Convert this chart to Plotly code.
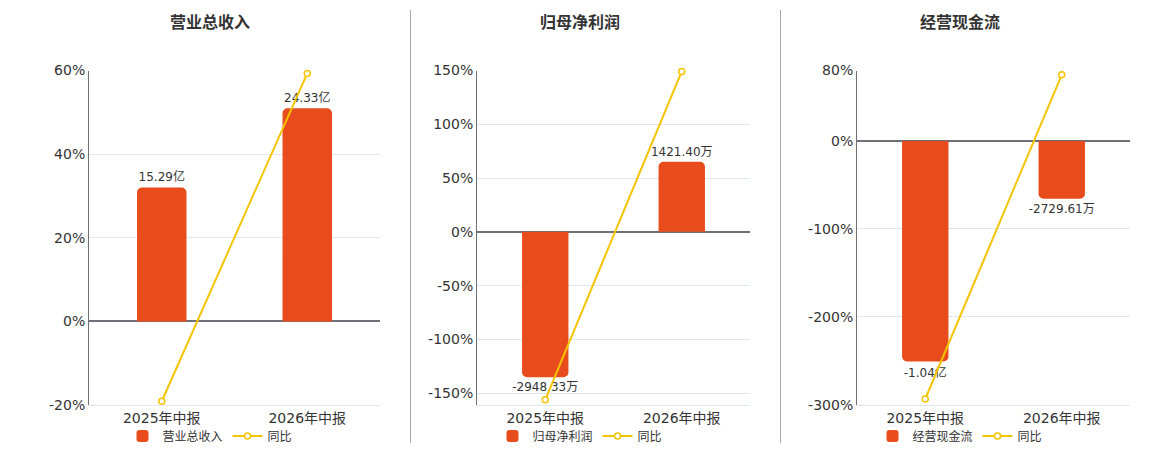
import plotly.graph_objects as go

# data
periods = ['2025年中报', '2026年中报']

titles = ['营业总收入', '归母净利润', '经营现金流']

revenue = [15.29, 24.33]            # 亿
revenue_text = ['15.29亿', '24.33亿']
revenue_yoy = [-19.1, 59.3]         # %

profit = [-2948.33, 1421.40]        # 万
profit_text = ['-2948.33万', '1421.40万']
profit_yoy = [-156.2, 149.1]

cashflow = [-10400.0, -2729.61]     # 万
cashflow_text = ['-1.04亿', '-2729.61万']
cashflow_yoy = [-293.2, 75.1]

pct_ticks_1 = [-20, 0, 20, 40, 60]
pct_ticks_2 = [-150, -100, -50, 0, 50, 100, 150]
pct_ticks_3 = [-300, -200, -100, 0, 80]

BAR = '#E84C1C'
LINE = '#F5C400'
GRID = '#E0E6F1'
AXIS = '#6E7079'
TXT = '#333333'
FONT = 'DejaVu Sans, Noto Sans CJK SC, sans-serif'

W, H = 1160, 450
OFF = 8  # page body margin, figure is drawn 8px in from the corner


def px(v):
    return (v - OFF) / W


def py(v):
    return 1 - (v - OFF) / H


panels = [
    dict(bars=revenue, text=revenue_text, yoy=revenue_yoy, ticks=pct_ticks_1,
         prange=[-20, 60], k=0.4775, x0=89, x1=380, tx=210),
    dict(bars=profit, text=profit_text, yoy=profit_yoy, ticks=pct_ticks_2,
         prange=[-161, 150], k=21.82, x0=477, x1=750, tx=580),
    dict(bars=cashflow, text=cashflow_text, yoy=cashflow_yoy, ticks=pct_ticks_3,
         prange=[-300, 80], k=41.5, x0=857, x1=1130, tx=960),
]

fig = go.Figure()
layout = {}
ydom = [py(405), py(70.5)]

for i, p in enumerate(panels):
    n = i + 1
    xa = 'x' if n == 1 else f'x{n}'
    ybar = 'y' if n == 1 else f'y{2 * n - 1}'
    ypct = f'y{2 * n}'
    lg = 'legend' if n == 1 else f'legend{n}'

    fig.add_trace(go.Bar(
        x=periods, y=p['bars'], text=p['text'], name=titles[i],
        xaxis=xa, yaxis=ybar, legend=lg,
        marker=dict(color=BAR, cornerradius=5, line=dict(width=0)),
        width=0.34, textposition='outside', cliponaxis=False,
        constraintext='none',
        textfont=dict(size=12, color=TXT), hoverinfo='skip',
    ))
    fig.add_trace(go.Scatter(
        x=periods, y=p['yoy'], name='同比', mode='lines+markers',
        xaxis=xa, yaxis=ypct, legend=lg,
        line=dict(color=LINE, width=2),
        marker=dict(symbol='circle', size=6, color='white',
                    line=dict(color=LINE, width=1.5)),
        cliponaxis=False, hoverinfo='skip',
    ))

    xkey = 'xaxis' if n == 1 else f'xaxis{n}'
    layout[xkey] = dict(
        domain=[px(p['x0']), px(p['x1'])], anchor=ybar, automargin=False,
        type='category', showgrid=False, showline=True, linecolor=GRID,
        linewidth=1, ticks='', tickfont=dict(size=14, color=TXT),
    )
    ybkey = 'yaxis' if n == 1 else f'yaxis{2 * n - 1}'
    layout[ybkey] = dict(
        domain=ydom, anchor=xa, visible=False, automargin=False,
        range=[p['prange'][0] * p['k'], p['prange'][1] * p['k']],
    )
    layout[f'yaxis{2 * n}'] = dict(
        domain=ydom, anchor=xa, overlaying=ybar, side='left', automargin=False,
        range=p['prange'], tickvals=p['ticks'],
        ticktext=[f'{t}%' for t in p['ticks']],
        tickfont=dict(size=14, color=TXT),
        showgrid=True, gridcolor=GRID, gridwidth=1,
        zeroline=True, zerolinecolor=AXIS, zerolinewidth=2,
        showline=True, linecolor=AXIS, linewidth=1, ticks='',
    )
    layout[lg] = dict(
        orientation='h', xref='container', yref='container',
        x=px(p['tx']), xanchor='center',
        y=py(436), yanchor='middle',
        font=dict(size=12, color=TXT), bgcolor='rgba(0,0,0,0)',
        itemclick=False, itemdoubleclick=False, tracegroupgap=0,
    )

annotations = [
    dict(text=f'<b>{t}</b>', x=px(p['tx']), y=py(23), xref='paper', yref='paper',
         showarrow=False, font=dict(size=16, color=TXT), xanchor='center', yanchor='middle')
    for t, p in zip(titles, panels)
]

shapes = [
    dict(type='line', xref='paper', yref='paper', x0=px(xv), x1=px(xv),
         y0=py(443), y1=py(10), line=dict(color='#AAAAAA', width=1))
    for xv in [410.5, 780.5]
]

fig.update_layout(
    width=W, height=H,
    margin=dict(l=0, r=0, t=0, b=0, autoexpand=False),
    paper_bgcolor='white', plot_bgcolor='white',
    font=dict(family=FONT, color=TXT),
    barmode='overlay',
    annotations=annotations,
    shapes=shapes,
    **layout,
)

fig.write_html('out.html', config={'displayModeBar': False})
